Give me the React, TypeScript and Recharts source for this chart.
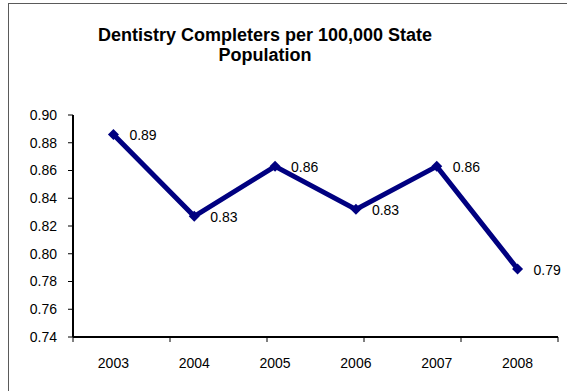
import { LineChart, Line, XAxis, YAxis, LabelList } from 'recharts';

const years = ['2003', '2004', '2005', '2006', '2007', '2008'];
const completers = [0.886, 0.827, 0.863, 0.832, 0.863, 0.789];
const yTicks = [0.74, 0.76, 0.78, 0.8, 0.82, 0.84, 0.86, 0.88, 0.9];
const boundaryTicks = [0, 1, 2, 3, 4, 5, 6];

const data = years.map((year, i) => ({ year, value: completers[i] }));

const font = '"Liberation Sans", Arial, sans-serif';

function Diamond(props: any) {
  const { cx, cy, index } = props;
  if (cx == null || cy == null) return null;
  const r = 5.5;
  return (
    <path
      key={`d-${index}`}
      d={`M${cx},${cy - r}L${cx + r},${cy}L${cx},${cy + r}L${cx - r},${cy}Z`}
      fill="#000080"
    />
  );
}

function ValueLabel(props: any) {
  const { x, y, value } = props;
  return (
    <text x={x + 16} y={y + 1} dominantBaseline="central" textAnchor="start" fontSize={14} fontFamily={font} fill="#000">
      {Number(value).toFixed(2)}
    </text>
  );
}

export default function App() {
  return (
    <div style={{ position: 'absolute', left: 0, top: 0, width: 567, height: 391, overflow: 'hidden', background: '#fff', fontFamily: font }}>
      <div style={{ position: 'absolute', left: 8, top: 3, width: 620, height: 440, border: '1.5px solid #5a5a5a' }} />
      <div style={{ position: 'absolute', left: 65, top: 25, width: 400, textAlign: 'center', fontWeight: 'bold', fontSize: 18, lineHeight: '20px', color: '#000' }}>
        Dentistry Completers per 100,000 State
        <br />
        Population
      </div>
      <div style={{ position: 'absolute', left: 0, top: 0 }}>
        <LineChart width={567} height={391} data={data} margin={{ top: 115, right: 9, bottom: 18, left: 13 }}>
          <XAxis
            xAxisId="a"
            type="number"
            domain={[0, 6]}
            ticks={boundaryTicks}
            allowDataOverflow
            tickFormatter={() => ''}
            tickSize={5}
            height={6}
            axisLine={{ stroke: '#000', strokeWidth: 2 }}
            tickLine={{ stroke: '#000', strokeWidth: 1 }}
          />
          <XAxis
            xAxisId="b"
            dataKey="year"
            scale="band"
            axisLine={false}
            tickLine={false}
            tickSize={0}
            tickMargin={15}
            height={30}
            tick={{ fontSize: 14, fill: '#000', fontFamily: font }}
          />
          <YAxis
            domain={[0.74, 0.9]}
            ticks={yTicks}
            tickFormatter={(v: number) => v.toFixed(2)}
            width={60}
            tickSize={5}
            tickMargin={11}
            axisLine={{ stroke: '#000', strokeWidth: 2 }}
            tickLine={{ stroke: '#000', strokeWidth: 1 }}
            tick={{ fontSize: 14, fill: '#000', fontFamily: font }}
          />
          <Line
            xAxisId="b"
            type="linear"
            dataKey="value"
            stroke="#000080"
            strokeWidth={5}
            dot={Diamond}
            activeDot={false}
            isAnimationActive={false}
          >
            <LabelList dataKey="value" content={ValueLabel} />
          </Line>
        </LineChart>
      </div>
    </div>
  );
}
